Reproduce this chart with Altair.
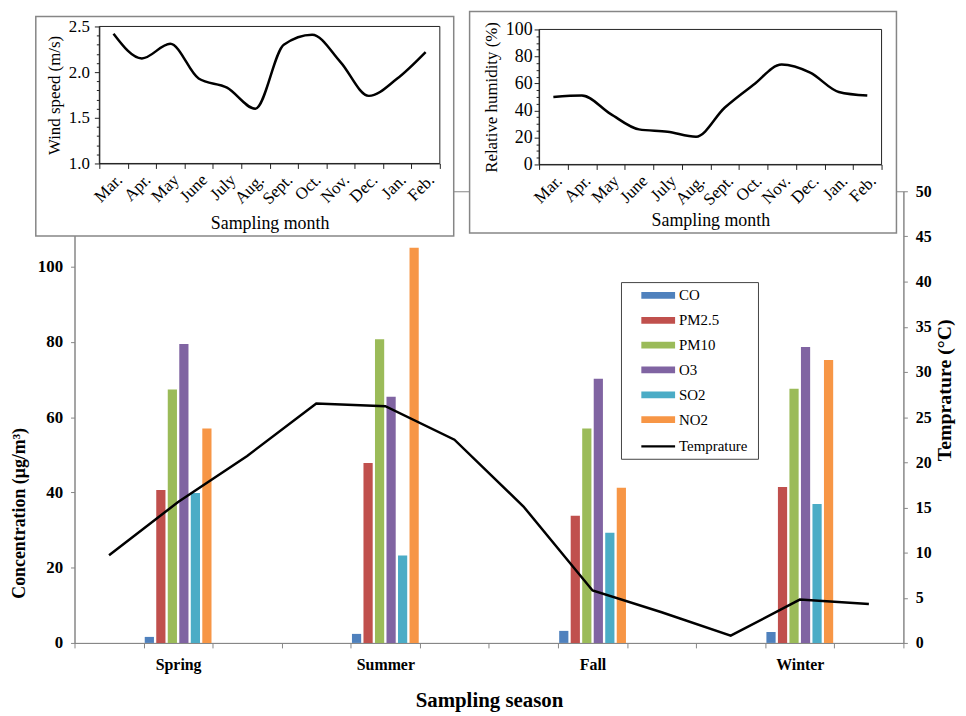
import altair as alt
import pandas as pd

SERIF = "Liberation Serif"
GRAY = "#868686"
DARK = "#222222"

# ---------------- data ----------------
months = ["Mar.", "Apr.", "May", "June", "July", "Aug.", "Sept.", "Oct.", "Nov.", "Dec.", "Jan.", "Feb."]
seasons = ["Spring", "Summer", "Fall", "Winter"]
season_month = ["Apr.", "July", "Oct.", "Jan."]
pollutants = ["CO", "PM2.5", "PM10", "O3", "SO2", "NO2"]
colors = ["#4F81BD", "#C0504D", "#9BBB59", "#8064A2", "#4BACC6", "#F79646"]

co = [1.6, 2.4, 3.2, 2.9]
pm25 = [40.6, 47.8, 33.8, 41.4]
pm10 = [67.3, 80.7, 57.0, 67.5]
o3 = [79.4, 65.4, 70.2, 78.6]
so2 = [39.8, 23.2, 29.3, 36.9]
no2 = [57.0, 105.0, 41.2, 75.2]

temperature = [9.7, 15.6, 20.7, 26.5, 26.2, 22.5, 15.1, 5.8, 3.4, 0.8, 4.8, 4.3]
wind_speed = [2.42, 2.15, 2.31, 1.93, 1.83, 1.60, 2.30, 2.41, 2.11, 1.74, 1.93, 2.22]
humidity = [50, 51, 37.5, 26, 24.3, 20.6, 42, 58.8, 74, 68, 53.7, 51]

# ---------------- tables ----------------
series = [co, pm25, pm10, o3, so2, no2]
rows = []
for p, vals in zip(pollutants, series):
    for m, v in zip(season_month, vals):
        rows.append({"month": m, "pollutant": p, "value": v})
bars_df = pd.DataFrame(rows)
temp_df = pd.DataFrame({"month": months, "temp": temperature, "series": "Temprature"})
wind_df = pd.DataFrame({"month": months, "wind": wind_speed})
hum_df = pd.DataFrame({"month": months, "hum": humidity})
one = pd.DataFrame({"k": [0]})


def ax(**kw):
    base = dict(labelFont=SERIF, titleFont=SERIF, labelColor="black",
                titleColor="black", grid=False)
    base.update(kw)
    return alt.Axis(**base)


# ---------------- main chart ----------------
label_expr = " : ".join(f"datum.value == '{m}' ? '{s}'" for m, s in zip(season_month, seasons)) + " : ''"

main_x_axis = ax(orient="bottom", title="Sampling season", tickBand="extent",
                 labelExpr=label_expr, labelAngle=0, labelFontSize=16,
                 labelFontWeight="bold", labelPadding=9, tickSize=5,
                 tickColor=GRAY, domainColor=GRAY, titleFontSize=21,
                 titleFontWeight="bold", titleY=47, titleBaseline="top",
                 labelOverlap=False, zindex=0)
main_x = alt.X("month:N", scale=alt.Scale(type="band", domain=months,
                                           paddingInner=0, paddingOuter=0),
               axis=main_x_axis)

left_axis = ax(orient="left", values=[0, 20, 40, 60, 80, 100],
               title="Concentration (μg/m³)", titleAngle=270, titleX=-55,
               titleY=324, titleBaseline="middle", titleFontSize=18,
               titleFontWeight="bold", labelFontSize=17, labelFontWeight="bold",
               labelPadding=8, tickSize=4, tickColor=GRAY, domainColor=GRAY,
               zindex=0)
right_axis = ax(orient="right", values=list(range(0, 51, 5)),
                title="Temprature (°C)", titleAngle=270, titleX=41, titleY=200,
                titleBaseline="middle", titleFontSize=20, titleFontWeight="bold",
                labelFontSize=16, labelFontWeight="bold", labelPadding=8,
                tickSize=4, tickColor=GRAY, domainColor=GRAY, zindex=0)

bar_legend = alt.Legend(orient="none", legendX=579.5, legendY=96.5, title=None,
                        symbolType="M-2,-0.4H2V0.4H-2Z", symbolSize=289,
                        symbolStrokeWidth=0, labelFont=SERIF, labelFontSize=15,
                        labelColor="black", labelOffset=12.5, rowPadding=8,
                        padding=0)
line_legend = alt.Legend(orient="none", legendX=578, legendY=247, title=None,
                         symbolType="M-2,0H2", symbolSize=289,
                         symbolStrokeWidth=2.5, labelFont=SERIF,
                         labelFontSize=15, labelColor="black", labelOffset=11,
                         padding=0)

bars = alt.Chart(bars_df).mark_bar().encode(
    x=main_x,
    xOffset=alt.XOffset("pollutant:N", sort=pollutants,
                        scale=alt.Scale(domain=pollutants, paddingInner=0.2,
                                        paddingOuter=0.1)),
    y=alt.Y("value:Q", scale=alt.Scale(domain=[0, 120], nice=False), axis=left_axis),
    color=alt.Color("pollutant:N", sort=pollutants,
                    scale=alt.Scale(domain=pollutants, range=colors),
                    legend=bar_legend),
)

temp_line = alt.Chart(temp_df).mark_line(strokeWidth=2.5).encode(
    x=main_x,
    y=alt.Y("temp:Q", scale=alt.Scale(domain=[0, 50], nice=False), axis=right_axis),
    stroke=alt.Stroke("series:N", scale=alt.Scale(domain=["Temprature"], range=["black"]),
                      legend=line_legend),
)

main = alt.layer(bars, temp_line).resolve_scale(y="independent")

# ---------------- inset: wind speed ----------------
wind_major = "abs(datum.value*2 - round(datum.value*2)) < 0.001"
wind_x_axis = ax(orient="bottom", offset=-483, tickBand="extent", labelAngle=315,
                 labelFontSize=17, labelPadding=3, tickSize=5, tickColor=DARK,
                 domainColor=DARK, title="Sampling month", titleFontSize=18,
                 titleFontWeight="normal", titleY=61, titleBaseline="middle",
                 labelOverlap=False, zindex=1)
wind_y_axis = ax(orient="left", offset=-25,
                 values=[round(1.0 + 0.1 * i, 1) for i in range(16)],
                 labelExpr=f"{wind_major} ? format(datum.value, '.1f') : ''",
                 tickSize={"condition": {"test": wind_major, "value": 5}, "value": 3},
                 labelFontSize=17, labelPadding=5, tickColor=DARK,
                 domainColor=DARK, title="Wind speed (m/s)", titleFontSize=17,
                 titleFontWeight="normal", titleAngle=270, titleX=-45,
                 titleBaseline="middle", labelOverlap=False, zindex=1)

box1 = alt.Chart(one).mark_rect(fill="white", stroke=GRAY, strokeWidth=1.5).encode(
    x=alt.value(-39), x2=alt.value(382), y=alt.value(-176), y2=alt.value(45))
frame1 = alt.Chart(one).mark_rect(fill="transparent", stroke=DARK, strokeWidth=1).encode(
    x=alt.value(25), x2=alt.value(368), y=alt.value(-166), y2=alt.value(-28))
wind = alt.Chart(wind_df).mark_line(color="black", strokeWidth=2.5,
                                    interpolate="monotone").encode(
    x=alt.X("month:N", scale=alt.Scale(type="band", domain=months, range=[25, 368],
                                       paddingInner=0, paddingOuter=0),
            axis=wind_x_axis),
    y=alt.Y("wind:Q", scale=alt.Scale(domain=[1.0, 2.5], range=[-28, -166],
                                      nice=False, zero=False),
            axis=wind_y_axis),
)
inset1 = alt.layer(box1, frame1, wind)

# ---------------- inset: humidity ----------------
hum_major = "datum.value % 20 == 0"
hum_x_axis = ax(orient="bottom", offset=-482, tickBand="extent", labelAngle=315,
                labelFontSize=17, labelPadding=3, tickSize=5, tickColor=DARK,
                domainColor=DARK, title="Sampling month", titleFontSize=18,
                titleFontWeight="normal", titleY=56, titleBaseline="middle",
                labelOverlap=False, zindex=1)
hum_y_axis = ax(orient="left", offset=-468, values=list(range(0, 101, 5)),
                labelExpr=f"{hum_major} ? format(datum.value, 'd') : ''",
                tickSize={"condition": {"test": hum_major, "value": 5}, "value": 3},
                labelFontSize=18, labelPadding=2, tickColor=DARK,
                domainColor=DARK, title="Relative humidity  (%)", titleFontSize=17,
                titleFontWeight="normal", titleAngle=270, titleX=-48,
                titleBaseline="middle", labelOverlap=False, zindex=1)

box2 = alt.Chart(one).mark_rect(fill="white", stroke=GRAY, strokeWidth=1.5).encode(
    x=alt.value(398), x2=alt.value(828), y=alt.value(-181), y2=alt.value(42))
frame2 = alt.Chart(one).mark_rect(fill="transparent", stroke=DARK, strokeWidth=1).encode(
    x=alt.value(468), x2=alt.value(813), y=alt.value(-163), y2=alt.value(-27))
hum = alt.Chart(hum_df).mark_line(color="black", strokeWidth=2.5,
                                  interpolate="monotone").encode(
    x=alt.X("month:N", scale=alt.Scale(type="band", domain=months, range=[468, 813],
                                       paddingInner=0, paddingOuter=0),
            axis=hum_x_axis),
    y=alt.Y("hum:Q", scale=alt.Scale(domain=[0, 100], range=[-27, -163],
                                     nice=False, zero=False),
            axis=hum_y_axis),
)
inset2 = alt.layer(box2, frame2, hum)

# ---------------- legend frame ----------------
legend_box = alt.Chart(one).mark_rect(fill="white", stroke="#444444", strokeWidth=1).encode(
    x=alt.value(551), x2=alt.value(689), y=alt.value(92), y2=alt.value(270))

chart = alt.layer(main, inset1, inset2, legend_box).resolve_scale(
    x="independent", y="independent"
).properties(
    width=835, height=455,
    padding={"left": 67, "top": 182, "right": 55, "bottom": 70},
    autosize=alt.AutoSizeParams(type="none"),
).configure_view(stroke=GRAY, strokeWidth=1)

chart.save("out.html", embed_options={"renderer": "svg", "actions": False})
